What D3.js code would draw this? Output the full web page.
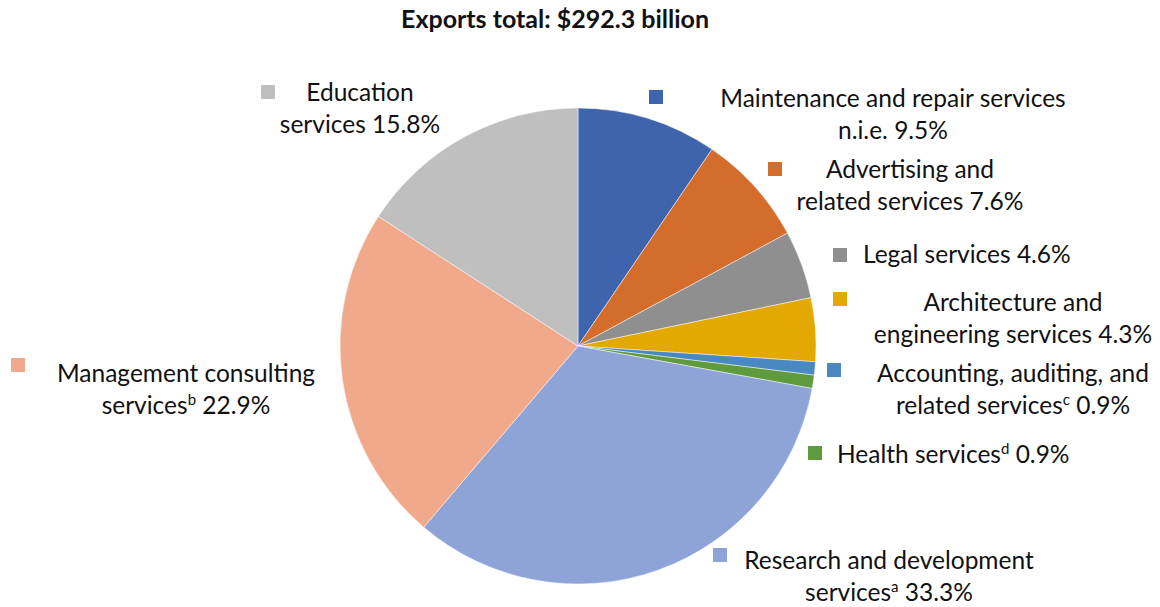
<!DOCTYPE html>
<html>
<head>
<meta charset="utf-8">
<script src="https://cdn.jsdelivr.net/npm/d3@7"></script>
<style>
  html, body { margin: 0; padding: 0; background: #ffffff; }
  svg { display: block; }
  text { font-family: Lato, "Open Sans", sans-serif; fill: #111111; }
</style>
</head>
<body>
<svg id="chart" width="1160" height="607"></svg>
<script>
// Service export categories, shares in percent (clockwise from 12 o'clock)
const categories = [
  "Maintenance and repair services n.i.e.",
  "Advertising and related services",
  "Legal services",
  "Architecture and engineering services",
  "Accounting, auditing, and related services",
  "Health services",
  "Research and development services",
  "Management consulting services",
  "Education services"
];
const shares = [9.5, 7.6, 4.6, 4.3, 0.9, 0.9, 33.3, 22.9, 15.8];
const footnotes = ["", "", "", "", "c", "d", "a", "b", ""];
const colors = ["#3e64ad", "#d46d2b", "#8f8f8f", "#e3a900", "#4a88c2", "#5f9b3d", "#8ea4d6", "#f1a98b", "#bfbfbf"];
const title = "Exports total: $292.3 billion";

// Label text, split into lines; the last line carries footnote + value
const labelLines = [
  ["Maintenance and repair services", "n.i.e."],
  ["Advertising and", "related services"],
  ["Legal services"],
  ["Architecture and", "engineering services"],
  ["Accounting, auditing, and", "related services"],
  ["Health services"],
  ["Research and development", "services"],
  ["Management consulting", "services"],
  ["Education", "services"]
];

// Label placement: legend square corner, text anchor x, first baseline, anchor mode
const labelLayout = [
  { sq: [649, 90],  x: 893,  y: 107, anchor: "middle" },
  { sq: [768, 162], x: 910,  y: 178, anchor: "middle" },
  { sq: [833, 248], x: 863,  y: 263, anchor: "start" },
  { sq: [833, 292], x: 1013, y: 311, anchor: "middle" },
  { sq: [827, 363], x: 1013, y: 382, anchor: "middle" },
  { sq: [808, 446], x: 837,  y: 463, anchor: "start" },
  { sq: [713, 548], x: 889,  y: 569, anchor: "middle" },
  { sq: [11, 358],  x: 186,  y: 382, anchor: "middle" },
  { sq: [261, 85],  x: 360,  y: 101, anchor: "middle" }
];

const svg = d3.select("#chart");
const cx = 578, cy = 346, radius = 238;
const lineGap = 32;
const fontSize = 24.5;

svg.append("text")
  .attr("x", 555).attr("y", 28)
  .attr("text-anchor", "middle")
  .style("font-weight", "bold")
  .style("font-size", "25px")
  .text(title);

const data = categories.map((c, i) => ({ name: c, value: shares[i], note: footnotes[i], color: colors[i], lines: labelLines[i], layout: labelLayout[i] }));

const pie = d3.pie().sort(null).value(d => d.value);
const arc = d3.arc().innerRadius(0).outerRadius(radius);

svg.append("g")
  .attr("transform", `translate(${cx},${cy})`)
  .selectAll("path")
  .data(pie(data))
  .join("path")
  .attr("d", arc)
  .attr("fill", d => d.data.color)
  .attr("stroke", "#ffffff")
  .attr("stroke-width", 0.6)
  .attr("stroke-opacity", 0.8);

const fmt = d3.format(".1f");
const labels = svg.append("g").selectAll("g").data(data).join("g");

labels.append("rect")
  .attr("x", d => d.layout.sq[0])
  .attr("y", d => d.layout.sq[1])
  .attr("width", 14).attr("height", 14)
  .attr("fill", d => d.color);

labels.each(function(d) {
  const g = d3.select(this);
  d.lines.forEach((ln, j) => {
    const t = g.append("text")
      .attr("x", d.layout.x)
      .attr("y", d.layout.y + j * lineGap)
      .attr("text-anchor", d.layout.anchor)
      .style("font-size", fontSize + "px");
    const last = j === d.lines.length - 1;
    t.append("tspan").text(ln);
    if (last) {
      if (d.note) {
        t.append("tspan")
          .attr("dy", -9)
          .style("font-size", "15px")
          .text(d.note);
        t.append("tspan").attr("dy", 9).text(" " + fmt(d.value) + "%");
      } else {
        t.append("tspan").text(" " + fmt(d.value) + "%");
      }
    }
  });
});
</script>
</body>
</html>
